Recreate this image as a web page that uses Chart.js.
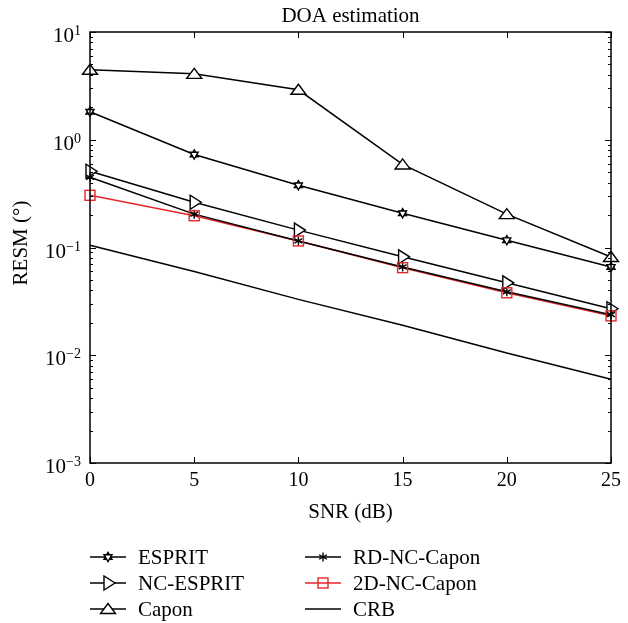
<!DOCTYPE html>
<html>
<head>
<meta charset="utf-8">
<script src="https://cdn.jsdelivr.net/npm/chart.js@4.4.1/dist/chart.umd.min.js"></script>
<style>
  html, body { margin: 0; padding: 0; background: #fff; }
  canvas { display: block; }
</style>
</head>
<body>
<canvas id="doa-chart" width="628" height="623"></canvas>
<script>
// SNR values (dB) and RMSE for each method
const snr = [0, 5, 10, 15, 20, 25];
const esprit = [1.82, 0.73, 0.378, 0.208, 0.117, 0.066];
const ncEsprit = [0.51, 0.263, 0.145, 0.082, 0.047, 0.027];
const capon = [4.46, 4.09, 2.91, 0.59, 0.204, 0.0817];
const rdNcCapon = [0.448, 0.204, 0.115, 0.066, 0.0388, 0.0238];
const ncCapon2d = [0.305, 0.197, 0.115, 0.065, 0.038, 0.0232];
const crb = [0.105, 0.060, 0.033, 0.019, 0.0105, 0.006];

const xTicks = [0, 5, 10, 15, 20, 25];
const yExponents = [1, 0, -1, -2, -3];

const FONT = '"Liberation Serif", "DejaVu Serif", serif';
const RED = 'rgb(232, 38, 42)';

// Marker painters, (x, y) is the data point centre
const markers = {
  hexagram(g, x, y) {
    const r = 4.6;
    [-Math.PI / 2, Math.PI / 2].forEach(start => {
      g.beginPath();
      for (let i = 0; i < 3; i++) {
        const a = start + i * 2 * Math.PI / 3;
        const px = x + r * Math.cos(a), py = y + r * Math.sin(a);
        if (i === 0) g.moveTo(px, py); else g.lineTo(px, py);
      }
      g.closePath();
      g.fill();
      g.stroke();
    });
  },
  triRight(g, x, y) {
    g.beginPath();
    g.moveTo(x - 4, y - 7); g.lineTo(x - 4, y + 7); g.lineTo(x + 7, y); g.closePath();
    g.fill(); g.stroke();
  },
  triUp(g, x, y) {
    g.beginPath();
    g.moveTo(x - 7.5, y + 4.5); g.lineTo(x + 7.5, y + 4.5); g.lineTo(x, y - 5.5); g.closePath();
    g.fill(); g.stroke();
  },
  asterisk(g, x, y) {
    g.beginPath();
    for (let i = 0; i < 3; i++) {
      const a = Math.PI / 2 + i * Math.PI / 3;
      g.moveTo(x + 4.5 * Math.cos(a), y + 4.5 * Math.sin(a));
      g.lineTo(x - 4.5 * Math.cos(a), y - 4.5 * Math.sin(a));
    }
    g.stroke();
  },
  square(g, x, y) {
    g.strokeRect(x - 5, y - 5, 10, 10);
  }
};

function pts(values) {
  return snr.map((x, i) => ({ x: x, y: values[i] }));
}

function series(label, values, color, marker) {
  return {
    label: label,
    data: pts(values),
    borderColor: color,
    borderWidth: 1.5,
    pointRadius: 0,
    clip: false,
    _marker: marker
  };
}

const datasets = [
  series('ESPRIT', esprit, '#000', 'hexagram'),
  series('NC-ESPRIT', ncEsprit, '#000', 'triRight'),
  series('Capon', capon, '#000', 'triUp'),
  series('RD-NC-Capon', rdNcCapon, '#000', 'asterisk'),
  series('2D-NC-Capon', ncCapon2d, RED, 'square'),
  series('CRB', crb, '#000', null)
];

function paintMarker(ctx, name, color, x, y) {
  if (!name) return;
  ctx.save();
  ctx.strokeStyle = color;
  ctx.fillStyle = '#fff';
  ctx.lineWidth = 1.4;
  markers[name](ctx, x, y);
  ctx.restore();
}

// Markers on top of the lines
const markerLayer = {
  id: 'markerLayer',
  afterDatasetsDraw(chart) {
    const ctx = chart.ctx;
    chart.data.datasets.forEach((ds, i) => {
      const meta = chart.getDatasetMeta(i);
      meta.data.forEach(p => paintMarker(ctx, ds._marker, ds.borderColor, p.x, p.y));
    });
  }
};

// Draws frame, inward ticks, tick labels, titles and legend
const decorations = {
  id: 'decorations',
  afterDraw(chart) {
    const ctx = chart.ctx;
    const a = chart.chartArea;
    const xs = chart.scales.x, ys = chart.scales.y;
    ctx.save();
    ctx.strokeStyle = '#000';
    ctx.fillStyle = '#000';
    ctx.lineWidth = 1.5;
    ctx.strokeRect(a.left, a.top, a.right - a.left, a.bottom - a.top);

    ctx.lineWidth = 1;
    ctx.beginPath();
    xTicks.forEach(v => {
      const px = Math.round(xs.getPixelForValue(v)) + 0.5;
      ctx.moveTo(px, a.bottom); ctx.lineTo(px, a.bottom - 6);
      ctx.moveTo(px, a.top); ctx.lineTo(px, a.top + 6);
    });
    for (let e = -3; e <= 0; e++) {
      for (let m = 1; m <= 10; m++) {
        const v = m * Math.pow(10, e);
        const py = Math.round(ys.getPixelForValue(v)) + 0.5;
        const len = (m === 1 || m === 10) ? 6 : 3;
        ctx.moveTo(a.left, py); ctx.lineTo(a.left + len, py);
        ctx.moveTo(a.right, py); ctx.lineTo(a.right - len, py);
      }
    }
    ctx.stroke();

    // x tick labels
    ctx.font = '20px ' + FONT;
    ctx.textAlign = 'center';
    ctx.textBaseline = 'alphabetic';
    xTicks.forEach(v => ctx.fillText(String(v), xs.getPixelForValue(v), a.bottom + 23));

    // y tick labels 10^n
    yExponents.forEach(e => {
      const py = ys.getPixelForValue(Math.pow(10, e));
      const exp = e < 0 ? '\u2212' + (-e) : String(e);
      ctx.font = '14px ' + FONT;
      const ew = ctx.measureText(exp).width;
      ctx.textAlign = 'left';
      ctx.textBaseline = 'alphabetic';
      const right = a.left - 9;
      ctx.fillText(exp, right - ew, py + 3);
      ctx.font = '21px ' + FONT;
      ctx.textAlign = 'right';
      ctx.fillText('10', right - ew, py + 10);
    });

    // titles
    ctx.font = '21px ' + FONT;
    ctx.textAlign = 'center';
    ctx.textBaseline = 'middle';
    ctx.fillText('DOA estimation', (a.left + a.right) / 2, 16);
    ctx.fillText('SNR (dB)', (a.left + a.right) / 2, 512);
    ctx.save();
    ctx.translate(21, 243);
    ctx.rotate(-Math.PI / 2);
    ctx.fillText('RESM (\u00b0)', 0, 0);
    ctx.restore();

    // legend
    const cols = [90, 305];
    const rows = [557, 583, 609];
    chart.data.datasets.forEach((ds, i) => {
      const x0 = cols[Math.floor(i / 3)];
      const y0 = rows[i % 3];
      ctx.strokeStyle = ds.borderColor;
      ctx.lineWidth = 1.5;
      ctx.beginPath();
      ctx.moveTo(x0, y0); ctx.lineTo(x0 + 36, y0);
      ctx.stroke();
      paintMarker(ctx, ds._marker, ds.borderColor, x0 + 18, y0);
      ctx.fillStyle = '#000';
      ctx.textAlign = 'left';
      ctx.textBaseline = 'middle';
      ctx.font = '21px ' + FONT;
      ctx.fillText(ds.label, x0 + 48, y0 + 1);
    });
    ctx.restore();
  }
};

new Chart(document.getElementById('doa-chart'), {
  type: 'line',
  data: { datasets: datasets },
  options: {
    responsive: false,
    animation: false,
    layout: { padding: { left: 90, right: 17, top: 32, bottom: 160 } },
    plugins: { legend: { display: false }, tooltip: { enabled: false } },
    scales: {
      x: { type: 'linear', min: 0, max: 25, display: false },
      y: { type: 'logarithmic', min: 0.001, max: 10, display: false }
    }
  },
  plugins: [markerLayer, decorations]
});
</script>
</body>
</html>
